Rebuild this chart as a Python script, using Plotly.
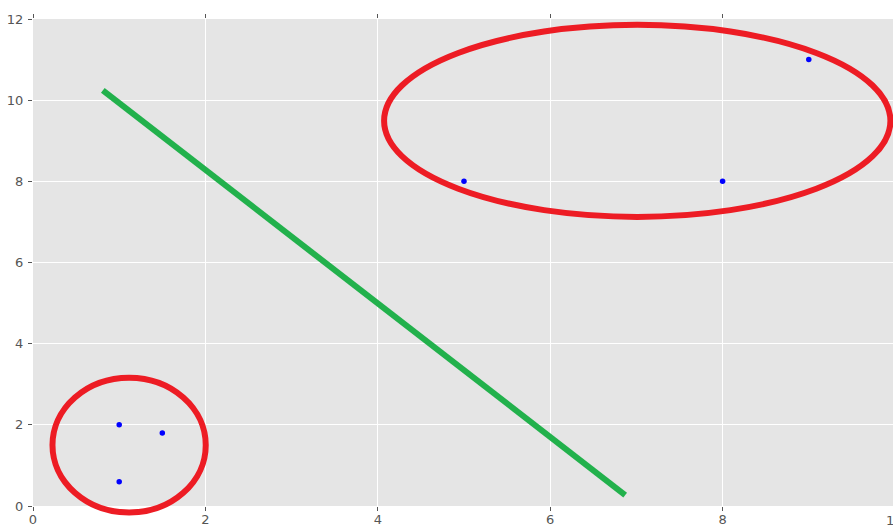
import plotly.graph_objects as go

# ---- data ----
point_x = [1, 1.5, 1, 5, 8, 9]
point_y = [2, 1.8, 0.6, 8, 8, 11]

line_x = [0.81, 6.87]
line_y = [10.24, 0.27]

# ellipses: centre x, centre y, radius x, radius y
ellipse_cx = [1.115, 7.01]
ellipse_cy = [1.50, 9.49]
ellipse_rx = [0.889, 2.937]
ellipse_ry = [1.66, 2.366]

x_ticks = [0, 2, 4, 6, 8, 10]
y_ticks = [0, 2, 4, 6, 8, 10, 12]

X_RANGE = [0, 9.977]
Y_RANGE = [0, 12]

fig = go.Figure()

fig.add_trace(go.Scatter(
    x=line_x, y=line_y, mode="lines",
    line=dict(color="#22B14C", width=6),
    hoverinfo="skip", showlegend=False,
))
fig.add_trace(go.Scatter(
    x=point_x, y=point_y, mode="markers",
    marker=dict(color="#0000FF", size=5.5, line=dict(width=0)),
    showlegend=False,
))


def ydom(v):
    return (v - Y_RANGE[0]) / (Y_RANGE[1] - Y_RANGE[0])


for cx, cy, rx, ry in zip(ellipse_cx, ellipse_cy, ellipse_rx, ellipse_ry):
    fig.add_shape(
        type="circle", xref="x", yref="y domain",
        x0=cx - rx, x1=cx + rx, y0=ydom(cy - ry), y1=ydom(cy + ry),
        line=dict(color="#ED1C24", width=6), layer="above",
    )

tickfont = dict(family="DejaVu Sans", size=13, color="#555555")

fig.update_xaxes(
    range=X_RANGE, tickvals=x_ticks[:-1], ticktext=[str(v) for v in x_ticks[:-1]],
    showgrid=True, gridcolor="white", gridwidth=1, zeroline=False,
    ticks="outside", ticklen=4, tickcolor="#555555", tickwidth=1,
    mirror="ticks", showline=False, tickfont=tickfont, automargin=False,
    ticklabelstandoff=-3,
)
fig.update_yaxes(
    range=Y_RANGE, tickvals=y_ticks, ticktext=[str(v) for v in y_ticks],
    showgrid=True, gridcolor="white", gridwidth=1, zeroline=False,
    ticks="outside", ticklen=4, tickcolor="#555555", tickwidth=1,
    mirror="ticks", showline=False, tickfont=tickfont, automargin=False,
    ticklabelstandoff=2,
)

# cut-off "10" label at the right edge
fig.add_annotation(
    x=(x_ticks[-1] - X_RANGE[0]) / (X_RANGE[1] - X_RANGE[0]), xref="paper",
    y=0, yref="paper", yshift=-5, yanchor="top", xanchor="center",
    text=str(x_ticks[-1]), showarrow=False, font=tickfont,
)

fig.update_layout(
    width=893, height=526,
    margin=dict(l=33, r=0, t=19, b=20),
    plot_bgcolor="#E5E5E5", paper_bgcolor="white",
    showlegend=False,
)

fig.write_html(
    "out.html",
    config={"displayModeBar": False},
    post_script="document.body.style.margin='0';document.body.style.overflow='hidden';",
)
